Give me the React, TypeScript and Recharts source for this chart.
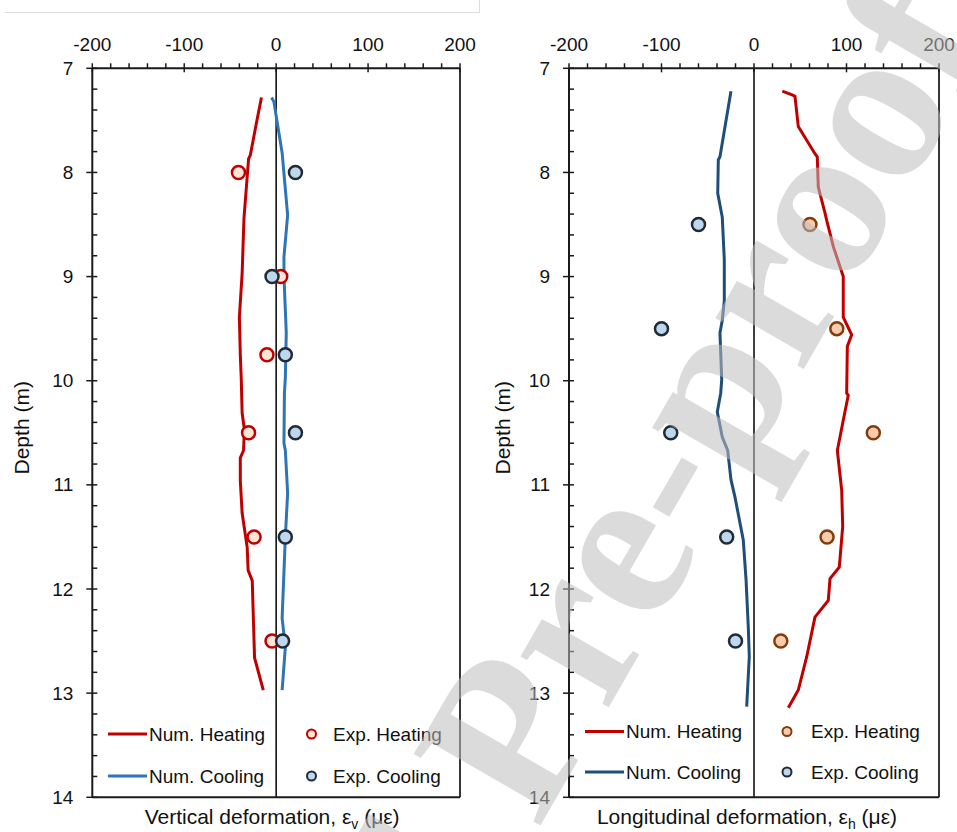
import React from "react";
import { ScatterChart, Scatter, XAxis, YAxis, ReferenceLine } from "recharts";

type Pt = [number, number];

// vertical deformation panel: [strain (με), depth (m)]
const vertNumHeating: Pt[] = [
  [-16, 7.28], [-22, 7.55], [-28, 7.83], [-30, 7.87], [-35, 8.44], [-37, 8.97],
  [-40, 9.39], [-39, 9.75], [-38, 9.97], [-37, 10.31], [-34.5, 10.47], [-35.5, 10.67],
  [-39, 10.74], [-39, 10.96], [-37, 11.27], [-31.5, 11.6], [-30.5, 11.82], [-26, 11.92],
  [-23.5, 12.66], [-14, 12.97],
];
const vertNumCooling: Pt[] = [
  [-5, 7.28], [-2.5, 7.32], [6.5, 7.81], [12.5, 8.41], [8.5, 8.81], [8.5, 9.0],
  [11, 9.54], [10, 9.97], [9, 10.12], [8.5, 10.6], [10, 10.67], [12.5, 11.08],
  [10, 11.5], [6.5, 12.28], [10, 12.56], [6.5, 12.97],
];
const vertExpHeating: Pt[] = [[-41, 8.0], [5, 9.0], [-10, 9.75], [-30, 10.5], [-24, 11.5], [-4.5, 12.5]];
const vertExpCooling: Pt[] = [[21, 8.0], [-4.5, 9.0], [10, 9.75], [21, 10.5], [10, 11.5], [7, 12.5]];

// longitudinal deformation panel
const longNumHeating: Pt[] = [
  [30.6, 7.22], [42.5, 7.26], [44.3, 7.27], [47.9, 7.56], [65.9, 7.82], [68.4, 7.85],
  [69.5, 8.14], [76.8, 8.39], [78.6, 8.46], [85.7, 8.71], [96.5, 9.0], [96.5, 9.39],
  [105.6, 9.56], [100.9, 9.67], [100.2, 10.12], [101.9, 10.14], [96.5, 10.38], [90.1, 10.67],
  [94.8, 11.05], [95.9, 11.4], [92.2, 11.79], [82.2, 11.9], [80.3, 12.11], [65.9, 12.27],
  [57, 12.65], [47.9, 12.97], [37.1, 13.14],
];
const longNumCooling: Pt[] = [
  [-24.9, 7.22], [-36.8, 7.85], [-38.6, 7.88], [-39.2, 8.2], [-34.3, 8.43], [-32.1, 8.84],
  [-32.1, 9.23], [-34.3, 9.42], [-36.8, 9.54], [-34.9, 9.99], [-36, 10.12], [-39.7, 10.3],
  [-34.3, 10.54], [-28.4, 10.67], [-24.9, 10.95], [-20.5, 11.12], [-11.6, 11.53], [-8.6, 11.91],
  [-6.2, 12.36], [-5.1, 12.65], [-7.9, 13.13],
];
const longExpHeating: Pt[] = [[60.5, 8.5], [89.5, 9.5], [129, 10.5], [79, 11.5], [29, 12.5]];
const longExpCooling: Pt[] = [[-60, 8.5], [-100, 9.5], [-90, 10.5], [-29.5, 11.5], [-20, 12.5]];

const strainTicks: number[] = [];
for (let v = -200; v <= 200; v += 20) strainTicks.push(v);
const depthTicks: number[] = [];
for (let i = 70; i <= 140; i += 2) depthTicks.push(i / 10);

const FONT = "'Liberation Sans', Arial, sans-serif";
const AXIS = "#1a1a1a";

const toPts = (arr: Pt[]) => arr.map(([x, y]) => ({ x, y }));

const XTick = (p: any) => {
  const { x, y, payload } = p;
  const major = payload.value % 100 === 0;
  return (
    <g>
      <line x1={x} x2={x} y1={y - 5} y2={major ? y + 4 : y} stroke={AXIS} strokeWidth={1.5} />
      {major && (
        <text x={x} y={y - 17.5} textAnchor="middle" fontSize={19} fontFamily={FONT} fill="#111">
          {payload.value}
        </text>
      )}
    </g>
  );
};

const YTick = (p: any) => {
  const { x, y, payload } = p;
  const major = Number.isInteger(payload.value);
  return (
    <g>
      <line x1={major ? x - 6 : x} x2={x + 5} y1={y} y2={y} stroke={AXIS} strokeWidth={1.5} />
      {major && (
        <text x={x - 19} y={y} textAnchor="end" dominantBaseline="central" fontSize={19} fontFamily={FONT} fill="#111">
          {payload.value}
        </text>
      )}
    </g>
  );
};

const marker = (fill: string, stroke: string) => (p: any) =>
  <circle cx={p.cx} cy={p.cy} r={6.5} fill={fill} stroke={stroke} strokeWidth={2.5} />;

const noShape = () => <g />;

interface PanelProps {
  width: number;
  plotLeft: number;
  plotRight: number;
  titleX: number;
  depthX: number;
  prefix: string;
  sub: string;
  numHeat: Pt[];
  numCool: Pt[];
  expHeat: Pt[];
  expCool: Pt[];
  heatLine: string;
  coolLine: string;
  heatFill: string;
  heatStroke: string;
}

const Panel = (props: PanelProps) => {
  const { width, plotLeft, plotRight } = props;
  return (
    <ScatterChart
      width={width}
      height={832}
      margin={{ top: 28.3, right: width - plotRight - 10, bottom: 4.7, left: 0 }}
    >
      <XAxis
        dataKey="x"
        type="number"
        orientation="top"
        height={40}
        domain={[-200, 200]}
        ticks={strainTicks}
        interval={0}
        tickSize={0}
        tickMargin={0}
        tickLine={false}
        tick={XTick}
        axisLine={{ stroke: AXIS, strokeWidth: 2 }}
        allowDataOverflow
      />
      <XAxis
        xAxisId="b"
        type="number"
        orientation="bottom"
        height={30}
        domain={[-200, 200]}
        ticks={[]}
        tick={false}
        tickLine={false}
        axisLine={{ stroke: AXIS, strokeWidth: 2 }}
        label={(lp: any) => {
          const vb = lp.viewBox;
          return (
            <text x={vb.x + vb.width / 2 + props.titleX} y={824} textAnchor="middle" fontSize={21} fontFamily={FONT} fill="#111">
              {props.prefix}
              <tspan dy={5} fontSize={14}>{props.sub}</tspan>
              <tspan dy={-5}> (με)</tspan>
            </text>
          );
        }}
      />
      <YAxis
        dataKey="y"
        type="number"
        reversed
        width={plotLeft}
        domain={[7, 14]}
        ticks={depthTicks}
        interval={0}
        tickSize={0}
        tickMargin={0}
        tickLine={false}
        tick={YTick}
        axisLine={{ stroke: AXIS, strokeWidth: 2 }}
        allowDataOverflow
        label={(lp: any) => {
          const vb = lp.viewBox;
          const cx = vb.x + props.depthX;
          const cy = vb.y + vb.height / 2 - 5;
          return (
            <text x={cx} y={cy} transform={`rotate(-90, ${cx}, ${cy})`} textAnchor="middle" dominantBaseline="central" fontSize={21} fontFamily={FONT} fill="#111">
              Depth (m)
            </text>
          );
        }}
      />
      <YAxis
        yAxisId="r"
        type="number"
        orientation="right"
        reversed
        width={10}
        domain={[7, 14]}
        ticks={[]}
        tick={false}
        tickLine={false}
        axisLine={{ stroke: AXIS, strokeWidth: 1.75 }}
      />
      <ReferenceLine x={0} stroke="#000" strokeWidth={1.5} />
      <Scatter data={toPts(props.numHeat)} line={{ stroke: props.heatLine, strokeWidth: 3 }} shape={noShape} isAnimationActive={false} />
      <Scatter data={toPts(props.numCool)} line={{ stroke: props.coolLine, strokeWidth: 3 }} shape={noShape} isAnimationActive={false} />
      <Scatter data={toPts(props.expHeat)} shape={marker(props.heatFill, props.heatStroke)} isAnimationActive={false} />
      <Scatter data={toPts(props.expCool)} shape={marker("#BDD7EE", "#222A35")} isAnimationActive={false} />
    </ScatterChart>
  );
};

const LegendBlock = (p: {
  lineX: number; textX: number; dotX: number; dotTextX: number; rows: [number, number];
  heatLine: string; coolLine: string; heatFill: string; heatStroke: string;
}) => {
  const txt = { fontSize: 19, fontFamily: FONT, fill: "#111", dominantBaseline: "central" as const };
  return (
    <g>
      <line x1={p.lineX} x2={p.lineX + 39} y1={p.rows[0]} y2={p.rows[0]} stroke={p.heatLine} strokeWidth={3} />
      <text x={p.textX} y={p.rows[0]} {...txt}>Num. Heating</text>
      <line x1={p.lineX} x2={p.lineX + 39} y1={p.rows[1]} y2={p.rows[1]} stroke={p.coolLine} strokeWidth={3} />
      <text x={p.textX} y={p.rows[1]} {...txt}>Num. Cooling</text>
      <circle cx={p.dotX} cy={p.rows[0]} r={4.5} fill={p.heatFill} stroke={p.heatStroke} strokeWidth={2} />
      <text x={p.dotTextX} y={p.rows[0]} {...txt}>Exp. Heating</text>
      <circle cx={p.dotX} cy={p.rows[1]} r={4.5} fill="#BDD7EE" stroke="#222A35" strokeWidth={2} />
      <text x={p.dotTextX} y={p.rows[1]} {...txt}>Exp. Cooling</text>
    </g>
  );
};

export default function App() {
  return (
    <div style={{ position: "absolute", left: 0, top: 0, width: 957, height: 832, background: "#fff", overflow: "hidden" }}>
      <div style={{ position: "absolute", left: 5, top: 0, width: 474, height: 12, borderBottom: "1px solid #ddd", borderRight: "1px solid #ddd" }} />
      <div style={{ position: "absolute", left: 0, top: 0 }}>
        <Panel
          width={480} plotLeft={92.3} plotRight={460} titleX={-4} depthX={22}
          prefix="Vertical deformation, ε" sub="v"
          numHeat={vertNumHeating} numCool={vertNumCooling}
          expHeat={vertExpHeating} expCool={vertExpCooling}
          heatLine="#C00000" coolLine="#2E75B6" heatFill="#FBE5D6" heatStroke="#C00000"
        />
      </div>
      <div style={{ position: "absolute", left: 480, top: 0 }}>
        <Panel
          width={477} plotLeft={89} plotRight={459} titleX={-7} depthX={22.5}
          prefix="Longitudinal deformation, ε" sub="h"
          numHeat={longNumHeating} numCool={longNumCooling}
          expHeat={longExpHeating} expCool={longExpCooling}
          heatLine="#C00000" coolLine="#1F4E79" heatFill="#F8CBAD" heatStroke="#843C0C"
        />
      </div>
      <svg width={957} height={832} style={{ position: "absolute", left: 0, top: 0, pointerEvents: "none" }}>
        <LegendBlock
          lineX={108} textX={149} dotX={311.5} dotTextX={333} rows={[734, 776]}
          heatLine="#C00000" coolLine="#2E75B6" heatFill="#FBE5D6" heatStroke="#C00000"
        />
        <LegendBlock
          lineX={585} textX={626} dotX={787} dotTextX={811} rows={[731.5, 772]}
          heatLine="#C00000" coolLine="#1F4E79" heatFill="#F8CBAD" heatStroke="#843C0C"
        />
        <text
          x={140} y={1519}
          transform="rotate(-60, 140, 1519)"
          fontSize={222}
          fontWeight="bold"
          fontFamily="'Liberation Serif', 'Times New Roman', serif"
          fill="rgb(190,190,190)"
          fillOpacity={0.55}
        >
          Journal Pre-proof
        </text>
      </svg>
    </div>
  );
}
